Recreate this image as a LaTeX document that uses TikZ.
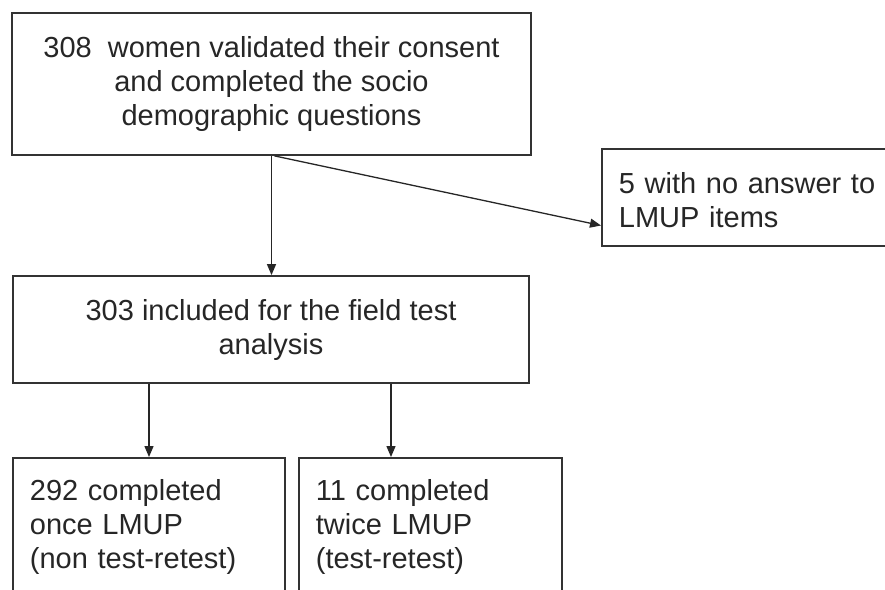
\documentclass[tikz,border=0pt]{standalone}
\usepackage{fontspec}
\setmainfont{Liberation Sans}
\usetikzlibrary{arrows.meta,positioning}

\begin{document}
\begin{tikzpicture}[x=1pt,y=-1pt,
  box/.style={draw=black!80, line width=1.8pt, inner sep=0pt, text=black!85,
    font=\fontsize{29}{34}\selectfont},
  midbox/.style={box, align=center},
  sidebox/.style={box, align=left, text width=#1, inner xsep=17pt},
  flow/.style={draw=black!85, line width=1.3pt, -{Triangle[length=11pt,width=9pt]}}]
\useasboundingbox (0,0) rectangle (885,589);
% boxes
\node [midbox, minimum width=519pt, minimum height=142pt] (start) at (271.5,84)
  {308\ \ women validated their consent\\and completed the socio\\demographic questions};
\node [sidebox=265pt, anchor=west, minimum height=97pt, text height=27pt] (noanswer) at (601,197.5)
  {5 with no answer to\\LMUP items};
\node [midbox, minimum width=516pt, minimum height=107pt] (included) at (271,329.5)
  {303 included for the field test\\analysis};
\node [sidebox=238pt, anchor=north west, inner ysep=22pt, text height=21pt, text depth=120pt] (once) at (12,457)
  {292 completed\\once LMUP\\(non test-retest)};
\node [sidebox=229pt, anchor=north west, inner ysep=22pt, text height=21pt, text depth=120pt] (twice) at (298,457)
  {11 completed\\twice LMUP\\(test-retest)};
% arrows
\draw [flow] (start.south) -- (start.south |- included.north);
\draw [flow] ([xshift=3pt]start.south) -- ([yshift=-28pt]noanswer.west);
\draw [flow] ([xshift=-122pt]included.south) -- ([xshift=-122pt]included.south |- once.north);
\draw [flow] ([xshift=120pt]included.south) -- ([xshift=120pt]included.south |- twice.north);
\end{tikzpicture}
\end{document}
